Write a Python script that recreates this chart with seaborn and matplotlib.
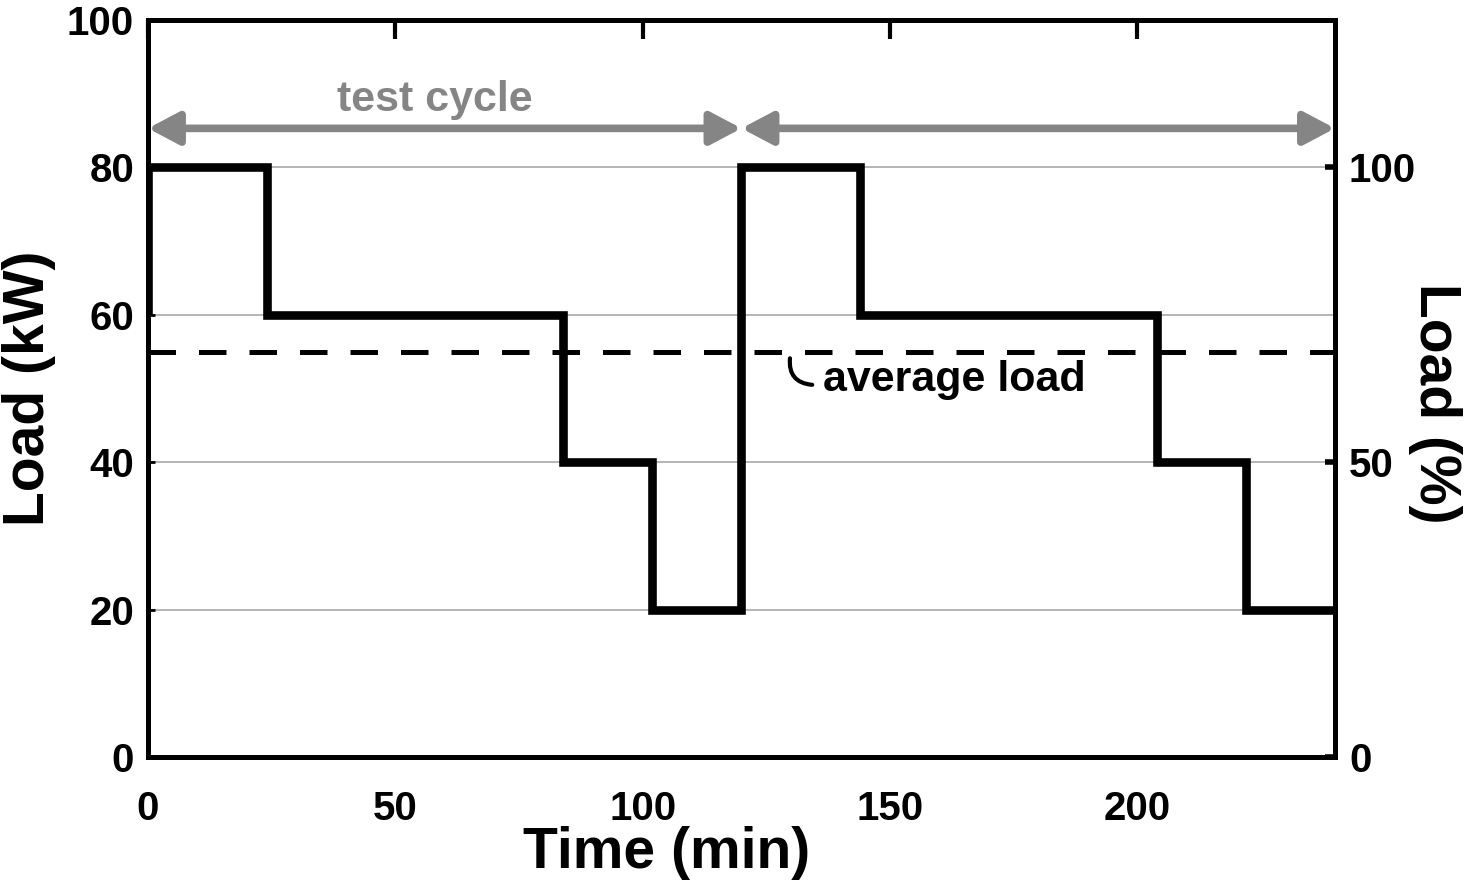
import numpy as np
import pandas as pd
import matplotlib
matplotlib.use("Agg")
import matplotlib.pyplot as plt
import seaborn as sns

# Ciclo de carga (dois ciclos de teste de 120 min)
tempo_min = [0, 0, 24, 84, 102, 120, 144, 204, 222, 240]
carga_kw = [60, 80, 60, 40, 20, 80, 60, 40, 20, 20]
carga_media = 55.0
carga_nominal = 80.0  # 100 %

xticks = [0, 50, 100, 150, 200]
yticks = [0, 20, 40, 60, 80, 100]
yticks_pct = [0, 50, 100]

df = pd.DataFrame({"tempo": tempo_min, "carga": carga_kw})

sns.set_style("white")
plt.rcParams["font.family"] = ["Liberation Sans", "DejaVu Sans"]
plt.rcParams["font.weight"] = "bold"
plt.rcParams["text.color"] = "black"
plt.rcParams["axes.labelcolor"] = "black"
plt.rcParams["xtick.color"] = "black"
plt.rcParams["ytick.color"] = "black"

fig = plt.figure(figsize=(14.68, 8.86), dpi=100)
ax = fig.add_axes([0.1008, 0.1456, 0.8086, 0.8318])

cinza = "#858585"

# Grade horizontal
for y in [20, 40, 60, 80]:
    ax.axhline(y, color="#a8a8a8", lw=1.2, zorder=0)

# Curva de carga em degraus
sns.lineplot(data=df, x="tempo", y="carga", ax=ax, sort=False, color="black",
             lw=6.2, drawstyle="steps-post", estimator=None,
             solid_joinstyle="miter", solid_capstyle="butt", zorder=3)

# Carga média
ax.axhline(carga_media, color="black", lw=3.6, dashes=(5.5, 4.6), zorder=2)

# Setas do ciclo de teste
for x0, x1 in [(0, 120), (120, 240)]:
    ax.annotate("", xy=(x1, 85.3), xytext=(x0, 85.3),
                arrowprops=dict(arrowstyle="<|-|>,head_length=0.85,head_width=0.45",
                                color=cinza, lw=5.5, shrinkA=0, shrinkB=0,
                                mutation_scale=22), zorder=4)
ax.text(58, 89.2, "test cycle", color=cinza, fontsize=31, fontweight="bold",
        ha="center", va="center")

# Rótulo da carga média
ax.annotate("", xy=(134.3, 50.5), xytext=(129.8, 54.1),
            arrowprops=dict(arrowstyle="-", color="black", lw=3,
                            shrinkA=0, shrinkB=0,
                            connectionstyle="arc3,rad=0.5"))
ax.text(136.4, 51.2, "average load", fontsize=31, fontweight="bold",
        ha="left", va="center")

ax.set_xlim(0, 240)
ax.set_ylim(0, 100)
ax.set_xticks(xticks)
ax.set_yticks(yticks)
ax.set_xlabel("Time (min)", fontsize=41, fontweight="bold")
ax.xaxis.set_label_coords(0.437, -0.093)
ax.set_ylabel("Load (kW)", fontsize=41, fontweight="bold", labelpad=8)
ax.tick_params(axis="x", direction="in", length=14, width=3, top=True,
               labelsize=29, pad=24)
ax.tick_params(axis="y", direction="in", length=5, width=2, right=True,
               labelsize=29, pad=10)
for lab in ax.get_xticklabels() + ax.get_yticklabels():
    lab.set_fontweight("bold")
for s in ax.spines.values():
    s.set_linewidth(3.5)
    s.set_color("black")

# Eixo secundário em porcentagem
ax2 = ax.twinx()
ax2.set_ylim(0, 100 / carga_nominal * 100)
ax2.set_yticks(yticks_pct)
ax2.tick_params(axis="y", direction="in", length=7, width=4, labelsize=29, pad=10)
for lab in ax2.get_yticklabels():
    lab.set_fontweight("bold")
ax2.set_ylabel("Load (%)", fontsize=41, fontweight="bold", rotation=270,
               ha="center", va="top")
ax2.yaxis.set_label_coords(1.0 + (1462 - 1335) / 1187, 0.48)
for s in ax2.spines.values():
    s.set_linewidth(3.5)
    s.set_color("black")
ax2.grid(False)

fig.savefig("out.png", dpi=100)
